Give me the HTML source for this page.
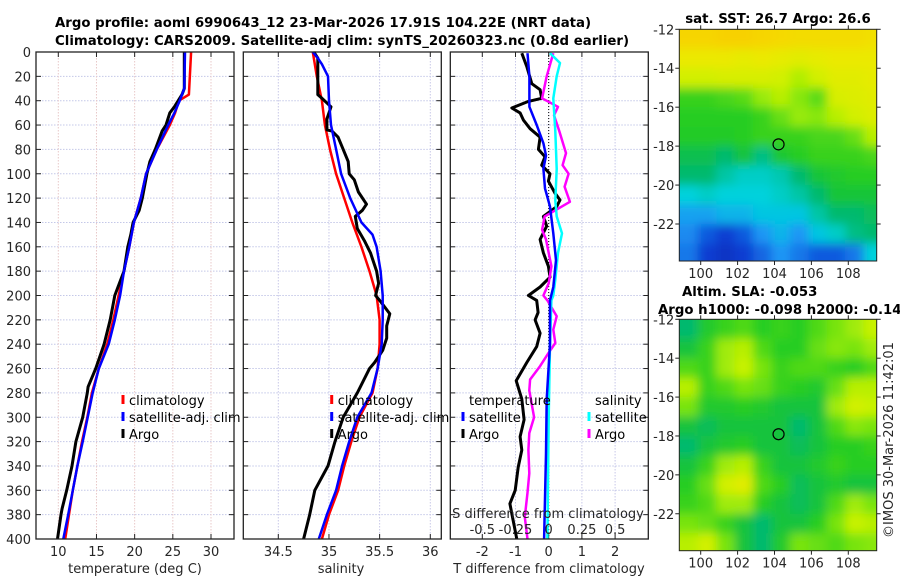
<!DOCTYPE html>
<html><head><meta charset="utf-8"><title>Argo profile</title>
<style>
html,body{margin:0;padding:0;background:#fff;}
svg{display:block;font-family:"DejaVu Sans","Liberation Sans",sans-serif;}
.tk{font-size:13px;fill:#262626;}
.tt{font-size:13.3px;font-weight:bold;fill:#000;}
.lg{font-size:13px;fill:#000;}
</style></head>
<body>
<svg id="fig" width="900" height="580" viewBox="0 0 900 580">
<defs>
<filter id="blur" filterUnits="userSpaceOnUse" x="600" y="0" width="300" height="580"><feGaussianBlur stdDeviation="5"/></filter>
<clipPath id="clipTop"><rect x="679.3" y="29.3" width="197.4" height="231.7"/></clipPath>
<clipPath id="clipBot"><rect x="679.3" y="319.3" width="197.4" height="231.4"/></clipPath>
</defs>
<text class="tt" x="55" y="27">Argo profile: aoml 6990643_12 23-Mar-2026 17.91S 104.22E (NRT data)</text>
<text class="tt" x="55" y="45">Climatology: CARS2009. Satellite-adj clim: synTS_20260323.nc (0.8d earlier)</text>
<g id="p1"></g>
<g id="p2"></g>
<g id="p3"></g>
<g id="m1"></g>
<g id="m2"></g>
<text class="tk" transform="translate(893,440) rotate(-90)" text-anchor="middle">©IMOS 30-Mar-2026 11:42:01</text>
</svg>
<script>
// ---------- data ----------
const depthTicks = [0,20,40,60,80,100,120,140,160,180,200,220,240,260,280,300,320,340,360,380,400];
const tempTicks = [10,15,20,25,30];
const salTicks = [34.5,35,35.5,36];
const salTickLabels = ["34.5","35","35.5","36"];
const diffTTicks = [-2,-1,0,1,2];
const diffSTicks = [-0.5,-0.25,0,0.25,0.5];
const diffSTickLabels = ["-0.5","-0.25","0","0.25","0.5"];

const climTDepth = [0,35,40,50,60,80,100,120,140,160,180,200,220,240,260,280,300,320,340,360,380,400];
const climTVal   = [27.4,27.1,25.8,25.3,24.6,22.9,21.5,20.8,19.9,19.3,18.6,17.9,17.2,16.4,15.3,14.4,13.8,13.1,12.5,11.9,11.4,10.9];
const satTDepth  = [0,30,40,50,60,80,100,120,140,160,180,200,220,240,260,280,300,320,340,360,380,400];
const satTVal    = [26.6,26.5,25.9,25.2,24.4,22.9,21.5,20.8,19.9,19.3,18.6,18.1,17.4,16.6,15.3,14.5,13.85,13.2,12.5,11.9,11.3,10.65];
const argoTDepth = [0,30,35,40,45,50,60,65,80,90,100,120,130,140,150,160,180,195,200,220,240,260,275,280,300,320,340,360,375,380,400];
const argoTVal   = [26.5,26.5,26.2,25.7,25.2,24.6,24.1,23.6,22.7,22.0,21.6,21.0,20.6,19.8,19.5,19.1,18.6,17.7,17.4,16.8,16.0,14.9,13.9,13.8,13.2,12.3,11.8,11.1,10.5,10.35,9.9];

const climSDepth = [0,20,40,60,80,100,120,140,160,180,200,220,240,260,280,300,320,340,360,380,400];
const climSVal   = [34.84,34.88,34.93,34.96,35.01,35.07,35.15,35.23,35.32,35.40,35.47,35.50,35.50,35.48,35.43,35.30,35.22,35.15,35.09,35.00,34.93];
const satSDepth  = [0,5,10,20,40,60,80,100,120,140,150,160,180,200,220,240,260,280,300,320,340,360,380,400];
const satSVal    = [34.84,34.89,34.93,34.99,35.0,35.02,35.07,35.12,35.21,35.32,35.43,35.47,35.51,35.53,35.53,35.52,35.48,35.42,35.28,35.20,35.13,35.07,34.98,34.90];
const argoSDepth = [0,5,35,38,45,55,64,65,70,80,90,100,105,115,125,130,135,145,155,165,180,190,200,205,215,225,235,245,255,260,280,300,320,340,360,380,400];
const argoSVal   = [34.85,34.89,34.89,34.93,35.02,34.98,34.98,35.03,35.09,35.14,35.19,35.20,35.25,35.29,35.37,35.33,35.26,35.28,35.35,35.41,35.47,35.49,35.46,35.51,35.60,35.57,35.57,35.53,35.45,35.40,35.28,35.14,35.06,34.99,34.86,34.81,34.75];

const dTSatDepth = [1,20,45,60,75,85,96,112,127,149,171,193,204,240,285,330,400];
const dTSatVal   = [-0.64,-0.58,-0.58,-0.36,-0.16,-0.08,-0.16,-0.11,0.04,0.14,0.22,0.14,0.04,0.04,-0.06,-0.08,-0.14];
const dTArgoDepth = [1,12,26,31,38,40.6,46,50,56,63,70,80,86,93,100,106,116,121.6,127,135,143,154,165,176,185,193,200,204,214,220,231,242,255,270,285,302,316,327,341,360,371,385,400];
const dTArgoVal   = [-0.81,-0.66,-0.51,-0.26,-0.21,-0.61,-1.11,-0.86,-0.76,-0.56,-0.26,-0.31,-0.11,-0.21,0.04,-0.01,0.19,0.34,0.24,-0.16,-0.06,-0.26,-0.16,-0.01,0.04,-0.26,-0.61,-0.36,-0.32,-0.41,-0.26,-0.36,-0.66,-0.98,-0.81,-0.74,-0.86,-0.81,-0.92,-1.01,-1.17,-1.07,-0.96];
const dSSatDepth = [1,9,20,38,65,96,122,135,149,165,187,200,204,240,300,400];
const dSSatVal   = [0.01,0.085,0.06,0.035,0.05,0.06,0.05,0.06,0.1,0.07,0.05,0.035,0.02,0.01,0.0,-0.01];
const dSArgoDepth = [1,20,38,45,52,65,83,93,100,110.6,123,130,135,146,154,165,176,190,200,204,217,228,239,247,258,269,278,300,313,327,346,362,382,400];
const dSArgoVal   = [0.035,-0.015,-0.05,0.07,0.04,0.08,0.13,0.105,0.15,0.12,0.16,0.05,-0.03,-0.05,-0.02,0,0.02,0,-0.04,-0.01,0.06,0.035,0.05,0,-0.065,-0.14,-0.146,-0.11,-0.146,-0.153,-0.146,-0.16,-0.18,-0.16];

const latTicks = [-12,-14,-16,-18,-20,-22];
const lonTicks = [100,102,104,106,108];
const sstGrid = [
[0.93,0.93,0.94,0.94,0.93,0.92,0.91,0.91,0.91,0.91,0.9],
[0.87,0.87,0.87,0.86,0.87,0.86,0.85,0.86,0.87,0.87,0.87],
[0.82,0.82,0.83,0.83,0.83,0.82,0.77,0.82,0.85,0.85,0.86],
[0.62,0.62,0.64,0.66,0.74,0.78,0.72,0.66,0.83,0.84,0.85],
[0.6,0.6,0.6,0.6,0.62,0.68,0.74,0.72,0.78,0.82,0.84],
[0.59,0.59,0.59,0.6,0.62,0.62,0.62,0.64,0.64,0.68,0.78],
[0.53,0.53,0.5,0.55,0.48,0.57,0.6,0.62,0.62,0.62,0.64],
[0.5,0.5,0.45,0.42,0.42,0.44,0.5,0.56,0.58,0.6,0.6],
[0.4,0.42,0.4,0.4,0.4,0.42,0.45,0.5,0.56,0.56,0.56],
[0.32,0.32,0.35,0.35,0.38,0.38,0.38,0.45,0.5,0.5,0.52],
[0.28,0.2,0.15,0.2,0.3,0.35,0.3,0.38,0.42,0.48,0.5],
[0.25,0.15,0.12,0.15,0.22,0.3,0.25,0.2,0.2,0.25,0.4]];
const slaGrid = [
[0.5,0.58,0.62,0.65,0.6,0.62,0.6,0.65,0.7,0.75,0.8],
[0.55,0.62,0.75,0.78,0.65,0.6,0.6,0.68,0.72,0.7,0.75],
[0.65,0.62,0.75,0.8,0.7,0.62,0.65,0.65,0.62,0.6,0.65],
[0.78,0.62,0.65,0.7,0.68,0.62,0.6,0.58,0.68,0.78,0.78],
[0.7,0.58,0.58,0.6,0.58,0.55,0.55,0.55,0.75,0.82,0.8],
[0.55,0.52,0.55,0.55,0.55,0.55,0.5,0.55,0.65,0.72,0.7],
[0.5,0.55,0.58,0.6,0.55,0.55,0.52,0.55,0.6,0.6,0.62],
[0.55,0.62,0.75,0.78,0.62,0.55,0.55,0.58,0.62,0.6,0.6],
[0.6,0.68,0.82,0.85,0.65,0.6,0.52,0.55,0.58,0.55,0.55],
[0.62,0.65,0.75,0.75,0.6,0.55,0.52,0.55,0.65,0.75,0.7],
[0.7,0.68,0.62,0.55,0.5,0.55,0.55,0.6,0.7,0.8,0.78],
[0.78,0.82,0.7,0.55,0.5,0.58,0.7,0.68,0.65,0.7,0.72]];
const floatLon = 104.22, floatLat = -17.91;

// ---------- helpers ----------
const NS = "http://www.w3.org/2000/svg";
function mk(parent, tag, attrs){ const e=document.createElementNS(NS,tag); for(const k in attrs) e.setAttribute(k,attrs[k]); parent.appendChild(e); return e; }
const Y0=52, Y1=539;
function yD(d){ return Y0 + d*(Y1-Y0)/400; }
function lin(d0,d1,r0,r1){ return v => r0 + (v-d0)*(r1-r0)/(d1-d0); }
const xT = lin(10,30,58.3,211);
const xS = lin(34.5,36,278.3,430.3);
const xDT = lin(0,1,548.7,581.9);
const xDS = lin(0,0.25,548.7,581.9);

function frame(g, x0, x1, xticks, xf, labels, vgridColor){
  mk(g,'rect',{x:x0,y:Y0,width:x1-x0,height:Y1-Y0,fill:'#fff'});
  depthTicks.forEach(d=>{
    const l=mk(g,'line',{x1:x0,x2:x1,y1:yD(d),y2:yD(d),stroke:'#c4c8e8','stroke-width':1,'stroke-dasharray':'1.5 1.5'});
     
  });
  xticks.forEach((t,i)=>{
    const X=xf(t);
    const l=mk(g,'line',{x1:X,x2:X,y1:Y0,y2:Y1,stroke:vgridColor,'stroke-width':1,'stroke-dasharray':'1.5 1.5'});
     
  });
  depthTicks.forEach(d=>{
    mk(g,'line',{x1:x0,x2:x0+5,y1:yD(d),y2:yD(d),stroke:'#222','stroke-width':1});
    mk(g,'line',{x1:x1-5,x2:x1,y1:yD(d),y2:yD(d),stroke:'#222','stroke-width':1});
  });
  xticks.forEach((t,i)=>{
    const X=xf(t);
    mk(g,'line',{x1:X,x2:X,y1:Y1,y2:Y1-5,stroke:'#222','stroke-width':1});
    mk(g,'line',{x1:X,x2:X,y1:Y0,y2:Y0+5,stroke:'#222','stroke-width':1});
    if(labels){ const tx=mk(g,'text',{x:X,y:556,'text-anchor':'middle',class:'tk'}); tx.textContent=labels[i];
        }
  });
}
function border(g,x0,x1){ const r=mk(g,'rect',{x:x0,y:Y0,width:x1-x0,height:Y1-Y0,fill:'none',stroke:'#222','stroke-width':1.3});
    }
function line(g, depths, vals, xf, color, w, name){
  const pts = depths.map((d,i)=> xf(vals[i]).toFixed(1)+','+yD(d).toFixed(1)).join(' ');
  const p=mk(g,'polyline',{points:pts,fill:'none',stroke:color,'stroke-width':w,'stroke-linejoin':'round'});
   
}
function legend(g, x, y, items){
  items.forEach((it,i)=>{
    const yy=y+i*17;
    if(it.c){ mk(g,'line',{x1:x,x2:x,y1:yy-10,y2:yy-1,stroke:it.c,'stroke-width':3}); }
    const t=mk(g,'text',{x:x+6,y:yy,class:'lg'}); t.textContent=it.t;
     
  });
}

// ---------- panel 1 ----------
const p1=document.getElementById('p1');
frame(p1,36,234,tempTicks,xT,tempTicks.map(String),'#e8c8c8');
depthTicks.forEach(d=>{ const t=mk(p1,'text',{x:31,y:yD(d)+5,'text-anchor':'end',class:'tk'}); t.textContent=d;
    });
line(p1,climTDepth,climTVal,xT,'#ff0000',2.5,'temp-climatology-line');
line(p1,argoTDepth,argoTVal,xT,'#000',3,'temp-argo-line');
line(p1,satTDepth,satTVal,xT,'#0000ff',2.5,'temp-satellite-line');
legend(p1,123,405,[{c:'#ff0000',t:'climatology'},{c:'#0000ff',t:'satellite-adj. clim'},{c:'#000',t:'Argo'}]);
border(p1,36,234);
{const t=mk(p1,'text',{x:135,y:573,'text-anchor':'middle',class:'tk'}); t.textContent='temperature (deg C)';
  }

// ---------- panel 2 ----------
const p2=document.getElementById('p2');
frame(p2,243.3,441.3,salTicks,xS,salTickLabels,'#c8c8e8');
line(p2,climSDepth,climSVal,xS,'#ff0000',2.5,'sal-climatology-line');
line(p2,argoSDepth,argoSVal,xS,'#000',3,'sal-argo-line');
line(p2,satSDepth,satSVal,xS,'#0000ff',2.5,'sal-satellite-line');
legend(p2,331.7,405,[{c:'#ff0000',t:'climatology'},{c:'#0000ff',t:'satellite-adj. clim'},{c:'#000',t:'Argo'}]);
border(p2,243.3,441.3);
{const t=mk(p2,'text',{x:341,y:573,'text-anchor':'middle',class:'tk'}); t.textContent='salinity';
  }

// ---------- panel 3 ----------
const p3=document.getElementById('p3');
frame(p3,450.3,648.3,diffTTicks,xDT,diffTTicks.map(String),'#c8c8e8');
{const z=mk(p3,'line',{x1:xDT(0),x2:xDT(0),y1:Y0,y2:Y1,stroke:'#000','stroke-width':1,'stroke-dasharray':'1 2'});
  }
line(p3,dTArgoDepth,dTArgoVal,xDT,'#000',3,'tdiff-argo-line');
line(p3,dSArgoDepth,dSArgoVal,xDS,'#ff00ff',2.5,'sdiff-argo-line');
line(p3,dSSatDepth,dSSatVal,xDS,'#00ffff',2.5,'sdiff-satellite-line');
line(p3,dTSatDepth,dTSatVal,xDT,'#0000ff',2.5,'tdiff-satellite-line');
legend(p3,463,405,[{c:null,t:'temperature'},{c:'#0000ff',t:'satellite'},{c:'#000',t:'Argo'}]);
legend(p3,589,405,[{c:null,t:'salinity'},{c:'#00ffff',t:'satellite'},{c:'#ff00ff',t:'Argo'}]);
{const t=mk(p3,'text',{x:548,y:518,'text-anchor':'middle',class:'tk'}); t.textContent='S difference from climatology';
  }
diffSTicks.forEach((s,i)=>{ const t=mk(p3,'text',{x:xDS(s),y:534,'text-anchor':'middle',class:'tk'}); t.textContent=diffSTickLabels[i];
    });
border(p3,450.3,648.3);
{const t=mk(p3,'text',{x:549,y:573,'text-anchor':'middle',class:'tk'}); t.textContent='T difference from climatology';
  }

// ---------- maps ----------
const cmapStops=[[0,[10,25,140]],[0.15,[10,60,210]],[0.3,[30,150,245]],[0.4,[0,210,220]],[0.5,[0,185,110]],[0.55,[20,195,60]],[0.6,[40,205,35]],[0.7,[120,228,15]],[0.8,[200,242,0]],[0.88,[240,232,0]],[0.95,[248,205,0]],[1,[248,190,0]]];
function cmap(v){ v=Math.max(0,Math.min(1,v)); for(let i=1;i<cmapStops.length;i++){ if(v<=cmapStops[i][0]){ const a=cmapStops[i-1],b=cmapStops[i],f=(v-a[0])/(b[0]-a[0]);
  return 'rgb('+a[1].map((c,k)=>Math.round(c+(b[1][k]-c)*f)).join(',')+')'; } } return 'rgb(248,190,0)'; }
function map(g, top, bottom, grid, clip){
  const lonX = lin(100,108,700.7,848.3);
  const latY = lin(-12,-22,top,top+(bottom-top)*10/11.9);
  const L=679.3,R=876.7;
  const cg=mk(g,'g',{'clip-path':'url(#'+clip+')'});
  const hg=mk(cg,'g',{filter:'url(#blur)'});
  const nr=grid.length, nc=grid[0].length;
  grid.forEach((row,r)=>row.forEach((v,c)=>{
    let x0=lonX(98.84+c), x1=lonX(99.84+c), y0=latY(-12-r), y1=latY(-13-r);
    if(c===0) x0-=20; if(c===nc-1) x1+=20; if(r===0) y0-=20; if(r===nr-1) y1+=20;
    const rc=mk(hg,'rect',{x:x0,y:y0,width:x1-x0+0.5,height:y1-y0+0.5,fill:cmap(v)});
     
  }));
  const fl=mk(g,'circle',{cx:lonX(floatLon),cy:latY(floatLat),r:5.5,fill:'none',stroke:'#000','stroke-width':1.2});
   
  const b=mk(g,'rect',{x:L,y:top,width:R-L,height:bottom-top,fill:'none',stroke:'#222','stroke-width':1});
   
  latTicks.forEach(la=>{ const Y=latY(la);
    mk(g,'line',{x1:L-4,x2:L,y1:Y,y2:Y,stroke:'#222'}); mk(g,'line',{x1:R,x2:R+4,y1:Y,y2:Y,stroke:'#222'});
    const t=mk(g,'text',{x:L-5,y:Y+5,'text-anchor':'end',class:'tk'}); t.textContent=la;
      });
  lonTicks.forEach(lo=>{ const X=lonX(lo);
    mk(g,'line',{x1:X,x2:X,y1:bottom,y2:bottom+4,stroke:'#222'}); mk(g,'line',{x1:X,x2:X,y1:top-4,y2:top,stroke:'#222'});
    const t=mk(g,'text',{x:X,y:bottom+17,'text-anchor':'middle',class:'tk'}); t.textContent=lo;
      });
}
const m1=document.getElementById('m1'), m2=document.getElementById('m2');
map(m1,29.3,261,sstGrid,'clipTop');
map(m2,319.3,550.7,slaGrid,'clipBot');
function ttl(g,x,y,s,anchor){ const t=mk(g,'text',{x:x,y:y,class:'tt','text-anchor':anchor}); t.textContent=s;
    }
ttl(m1,778,23,'sat. SST: 26.7 Argo: 26.6','middle');
ttl(m2,682,296,'Altim. SLA: -0.053','start');
ttl(m2,658,314,'Argo h1000: -0.098 h2000: -0.14','start');
</script>
</body></html>
